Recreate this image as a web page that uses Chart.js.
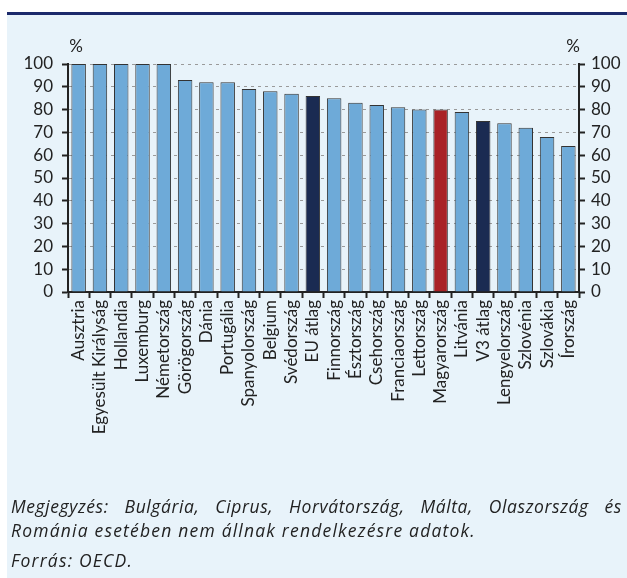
<!DOCTYPE html>
<html>
<head>
<meta charset="utf-8">
<script src="https://cdn.jsdelivr.net/npm/chart.js@4.4.1/dist/chart.umd.min.js"></script>
<style>
  html, body { margin: 0; padding: 0; width: 627px; height: 578px; overflow: hidden; background: #ffffff; }
  #panel { position: absolute; left: 7px; top: 12px; width: 620px; height: 566px; background: #e8f3fa; border-top: 3px solid #1b2a6b; box-sizing: border-box; }
  #wrap { position: absolute; left: 0; top: 0; width: 627px; height: 578px; }
  .note { position: absolute; left: 11px; width: 611px; font-family: "Open Sans", sans-serif; font-style: italic; font-size: 17.5px; letter-spacing: 1.2px; line-height: 22px; color: #222; white-space: nowrap; }
  #n1 { top: 495px; text-align: justify; text-align-last: justify; white-space: normal; letter-spacing: 0.6px; }
  #n2 { top: 519px; }
  #n3 { top: 549px; }
</style>
</head>
<body>
<div id="panel"></div>
<div id="wrap"><canvas id="c" width="627" height="578"></canvas></div>
<div class="note" id="n1">Megjegyzés: Bulgária, Ciprus, Horvátország, Málta, Olaszország és</div>
<div class="note" id="n2">Románia esetében nem állnak rendelkezésre adatok.</div>
<div class="note" id="n3">Forrás: OECD.</div>
<script>
const categories = ['Ausztria','Egyesült Királyság','Hollandia','Luxemburg','Németország','Görögország','Dánia','Portugália','Spanyolország','Belgium','Svédország','EU átlag','Finnország','Észtország','Csehország','Franciaország','Lettország','Magyarország','Litvánia','V3 átlag','Lengyelország','Szlovénia','Szlovákia','Írország'];
const values = [100,100,100,100,100,93,92,92,89,88,87,86,85,83,82,81,80,80,79,75,74,72,68,64];
const averageCategories = ['EU átlag','V3 átlag'];
const highlightCategory = 'Magyarország';
const yTicks = [0,10,20,30,40,50,60,70,80,90,100];
const unitLabel = '%';

const COL_BAR = '#6eaad8';
const COL_AVG = '#1a2b52';
const COL_HU = '#a92226';
const INK = '#222222';
const FONT = 'Lato, "Open Sans", sans-serif';

const barColors = categories.map(c => averageCategories.includes(c) ? COL_AVG : (c === highlightCategory ? COL_HU : COL_BAR));

const percentPlugin = {
  id: 'percentLabels',
  afterDraw(chart) {
    const {ctx, chartArea} = chart;
    ctx.save();
    ctx.font = '17px ' + FONT;
    ctx.fillStyle = INK;
    ctx.textAlign = 'center';
    ctx.textBaseline = 'middle';
    ctx.fillText(unitLabel, chartArea.left + 8, chartArea.top - 17);
    ctx.fillText(unitLabel, chartArea.right - 6, chartArea.top - 17);
    ctx.restore();
  }
};

const yCommon = {
  min: 0, max: 100,
  afterBuildTicks(scale) { scale.ticks = yTicks.map(v => ({value: v})); },
};

new Chart(document.getElementById('c'), {
  type: 'bar',
  data: {
    labels: categories,
    datasets: [{
      data: values,
      backgroundColor: barColors,
      borderColor: '#333333',
      borderWidth: 1,
      categoryPercentage: 1.0,
      barPercentage: 0.68,
    }]
  },
  options: {
    responsive: false,
    animation: false,
    events: [],
    layout: { padding: { top: 64, left: 0, right: 0, bottom: 0 } },
    plugins: { legend: { display: false }, tooltip: { enabled: false } },
    scales: {
      x: {
        offset: true,
        grid: { offset: true, drawOnChartArea: false, drawTicks: true, tickLength: 6, tickColor: INK, tickWidth: 2 },
        border: { display: true, color: INK, width: 2 },
        ticks: { font: { family: FONT, size: 17 }, color: INK, minRotation: 90, maxRotation: 90, autoSkip: false, padding: 2 },
        afterFit(scale) { scale.height = 578 - 292; }
      },
      y: Object.assign({}, yCommon, {
        position: 'left',
        grid: {
          color: ctx => (ctx.tick && ctx.tick.value === 0) ? 'rgba(0,0,0,0)' : '#9a9a9a',
          lineWidth: 1,
          tickColor: INK, tickWidth: 2, tickLength: 6,
          tickBorderDash: []
        },
        border: { display: true, color: INK, width: 2, dash: [3, 4] },
        ticks: { font: { family: FONT, size: 17 }, color: INK, padding: 9, autoSkip: false },
        afterFit(scale) { scale.width = 68; }
      }),
      y2: Object.assign({}, yCommon, {
        position: 'right',
        grid: { drawOnChartArea: false, tickColor: INK, tickWidth: 2, tickLength: 6 },
        border: { display: true, color: INK, width: 2 },
        ticks: { font: { family: FONT, size: 17 }, color: INK, padding: 6, autoSkip: false },
        afterFit(scale) { scale.width = 627 - 579; }
      })
    }
  },
  plugins: [percentPlugin]
});
</script>
</body>
</html>
